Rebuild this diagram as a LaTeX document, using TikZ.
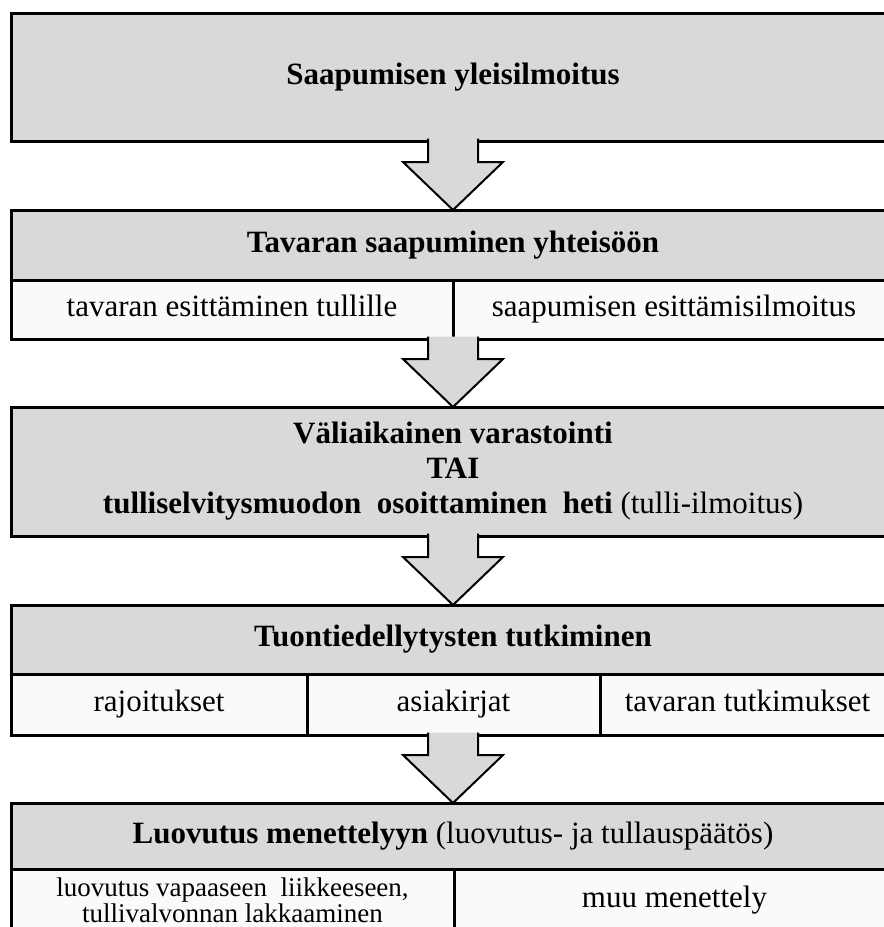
\documentclass[tikz,border=0pt]{standalone}
\usepackage{fontspec}
\setmainfont{Liberation Serif}
\usetikzlibrary{calc}
\definecolor{hdrgray}{HTML}{D9D9D9}
\definecolor{subwhite}{HTML}{FAFAFA}
\begin{document}
\begin{tikzpicture}[x=1pt,y=-1pt,
  boxbase/.style={draw=black, line width=3pt, inner sep=0pt, outer sep=0pt, anchor=north west, align=center},
  hdr/.style={boxbase, fill=hdrgray, font=\fontsize{31}{35}\selectfont},
  subcell/.style={boxbase, fill=subwhite, font=\fontsize{31}{35}\selectfont},
  oneline/.style={execute at begin node=\strut},
  arr/.style={draw=black, fill=hdrgray, line width=2pt, line join=miter}]
\clip (0,0) rectangle (884,927);
\fill[white] (0,0) rectangle (884,927);
% box 1
\node[hdr, oneline, minimum width=884, minimum height=128] (b1) at (11,13) {\textbf{Saapumisen yleisilmoitus}};
% box 2
\node[hdr, oneline, minimum width=884, minimum height=70] (b2h) at (11,210) {\textbf{Tavaran saapuminen yhteisöön}};
\node[subcell, oneline, minimum width=442, minimum height=59] (b2a) at (11,280) {tavaran esittäminen tullille};
\node[subcell, oneline, minimum width=442, minimum height=59] (b2b) at (453,280) {saapumisen esittämisilmoitus};
% box 3
\node[hdr, minimum width=884, minimum height=129] (b3) at (11,407) {\textbf{Väliaikainen varastointi}\\\textbf{TAI}\\\textbf{tulliselvitysmuodon\ \ osoittaminen\ \ heti} (tulli-ilmoitus)};
% box 4
\node[hdr, oneline, minimum width=884, minimum height=69] (b4h) at (11,605) {\textbf{Tuontiedellytysten tutkiminen}};
\node[subcell, oneline, minimum width=296, minimum height=61] (b4a) at (11,674) {rajoitukset};
\node[subcell, oneline, minimum width=293, minimum height=61] (b4b) at (307,674) {asiakirjat};
\node[subcell, oneline, minimum width=295, minimum height=61] (b4c) at (600,674) {tavaran tutkimukset};
% box 5
\node[hdr, oneline, minimum width=884, minimum height=66] (b5h) at (11,803) {\textbf{Luovutus menettelyyn} (luovutus- ja tullauspäätös)};
\node[subcell, minimum width=443, minimum height=62, font=\fontsize{27}{26}\selectfont] (b5a) at (11,869) {luovutus vapaaseen\ \ liikkeeseen,\\tullivalvonnan lakkaaminen};
\node[subcell, oneline, minimum width=441, minimum height=62] (b5b) at (454,869) {muu menettely};
% arrow start points
\coordinate (s1) at (b1.south);
\coordinate (s2) at (b2h.south |- b2a.south);
\coordinate (s3) at (b3.south);
\coordinate (s4) at (b4h.south |- b4b.south);
\newcommand\flowarrow[2]{%
  \fill[hdrgray] ($(#1)+(-25,-2.5)$) rectangle ($(#1)+(25,1)$);
  \filldraw[arr] ($(#1)+(-25,-2.5)$) -- ($(#2)+(-25,-48)$) -- ($(#2)+(-50,-48)$) -- (#2)
    -- ($(#2)+(50,-48)$) -- ($(#2)+(25,-48)$) -- ($(#1)+(25,-2.5)$);}
\flowarrow{s1}{b2h.north}
\flowarrow{s2}{b3.north}
\flowarrow{s3}{b4h.north}
\flowarrow{s4}{b5h.north}
\end{tikzpicture}
\end{document}
